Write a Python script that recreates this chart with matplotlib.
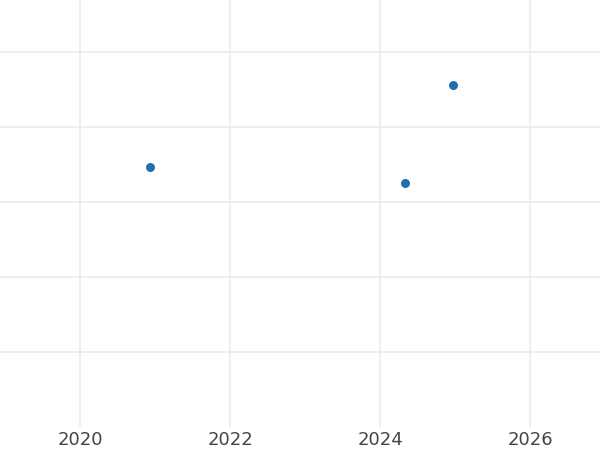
import matplotlib
matplotlib.use("Agg")
import matplotlib.pyplot as plt

years = [2020.93, 2024.33, 2024.97]
values = [3.47, 3.25, 4.56]
xticks = [2020, 2022, 2024, 2026]
yticks = [1, 2, 3, 4, 5]

fig = plt.figure(figsize=(6, 4.5), dpi=100)
ax = fig.add_axes([0, 23/450, 1, 427/450])
ax.scatter(years, values, s=42, color="#1f6fb0", zorder=3, linewidths=0)
ax.set_xlim(2018.933, 2026.933)
ax.set_ylim(0, 5.693)
ax.set_xticks(xticks)
ax.set_xticklabels([str(t) for t in xticks])
ax.set_yticks(yticks)
ax.set_yticklabels([])
ax.grid(True, color="#ebebeb", linewidth=1.2)
ax.set_axisbelow(True)
for s in ax.spines.values():
    s.set_visible(False)
ax.tick_params(axis="both", length=0, labelsize=13, labelcolor="#444444", pad=3)
fig.savefig("out.png", dpi=100)
